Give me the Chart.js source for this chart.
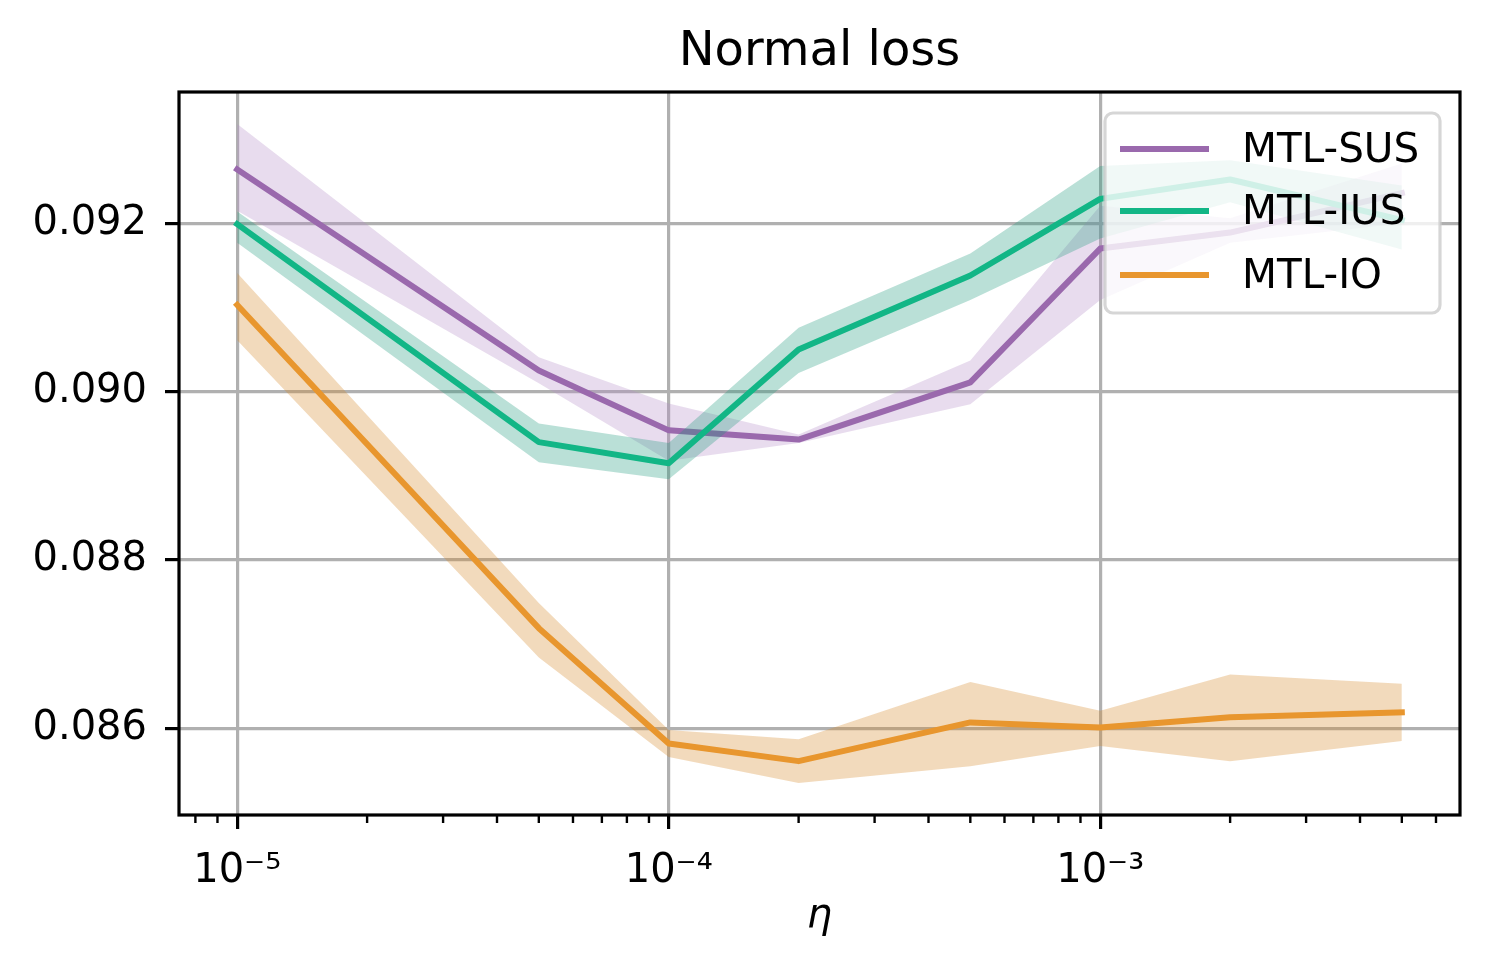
<!DOCTYPE html>
<html>
<head>
<meta charset="utf-8">
<title>Normal loss</title>
<script src="https://cdn.jsdelivr.net/npm/chart.js@4.4.1/dist/chart.umd.min.js"></script>
<style>
  html, body { margin: 0; padding: 0; background: #fff; }
  #wrap { width: 1490px; height: 975px; }
</style>
</head>
<body>
<div id="wrap"><canvas id="chart" width="1490" height="975"></canvas></div>
<script>
// learning rates on the x axis
const ETA = [1e-5, 5e-5, 1e-4, 2e-4, 5e-4, 1e-3, 2e-3, 5e-3];

const SUS_MEAN  = [0.09264, 0.09025, 0.08954, 0.08943, 0.09011, 0.09170, 0.09189, 0.09236];
const SUS_UPPER = [0.09318, 0.09041, 0.08986, 0.08949, 0.09037, 0.09221, 0.09206, 0.09271];
const SUS_LOWER = [0.09215, 0.09010, 0.08918, 0.08939, 0.08985, 0.09109, 0.09177, 0.09200];

const IUS_MEAN  = [0.09199, 0.08940, 0.08915, 0.09050, 0.09138, 0.09229, 0.09252, 0.09204];
const IUS_UPPER = [0.09214, 0.08962, 0.08939, 0.09076, 0.09164, 0.09268, 0.09275, 0.09245];
const IUS_LOWER = [0.09177, 0.08916, 0.08896, 0.09022, 0.09109, 0.09182, 0.09225, 0.09169];

const IO_MEAN   = [0.09103, 0.08719, 0.08582, 0.08561, 0.08607, 0.08601, 0.08613, 0.08619];
const IO_UPPER  = [0.09141, 0.08749, 0.08598, 0.08587, 0.08655, 0.08621, 0.08664, 0.08653];
const IO_LOWER  = [0.09061, 0.08684, 0.08566, 0.08535, 0.08555, 0.08579, 0.08561, 0.08585];

const SERIES_LABELS = ['MTL-SUS', 'MTL-IUS', 'MTL-IO'];

const X_TICKS = [1e-5, 1e-4, 1e-3];
const X_TICK_LABELS = ['10\u207B\u2075', '10\u207B\u2074', '10\u207B\u00B3'];
const X_MINOR = [8e-6, 9e-6, 2e-5, 3e-5, 4e-5, 5e-5, 6e-5, 7e-5, 8e-5, 9e-5,
                 2e-4, 3e-4, 4e-4, 5e-4, 6e-4, 7e-4, 8e-4, 9e-4,
                 2e-3, 3e-3, 4e-3, 5e-3, 6e-3];
const Y_TICKS = [0.086, 0.088, 0.090, 0.092];

const X_MIN = 7.33e-6, X_MAX = 6.82e-3;
const Y_MIN = 0.08497, Y_MAX = 0.09356;

const COLORS = {
    sus: '#9a69ad', susBand: 'rgba(178,138,198,0.3)',
    ius: '#12b686', iusBand: 'rgba(28,152,122,0.3)',
    io:  '#e8962e', ioBand:  'rgba(212,132,32,0.3)',
    grid: '#b0b0b0'
};

Chart.defaults.font.family = "'DejaVu Sans', sans-serif";
Chart.defaults.color = '#000';

function pts(arr) { return ETA.map((x, i) => ({ x: x, y: arr[i] })); }

function bandSets(upper, lower, color, order) {
    return [
        { label: '_up', data: pts(upper), borderWidth: 0, pointRadius: 0, fill: false, order: order },
        { label: '_lo', data: pts(lower), borderWidth: 0, pointRadius: 0, fill: '-1', backgroundColor: color, order: order }
    ];
}

function lineSet(label, mean, color, order) {
    return { label: label, data: pts(mean), borderColor: color, borderWidth: 6, pointRadius: 0,
             borderCapStyle: 'square', borderJoinStyle: 'round', fill: false, tension: 0, order: order };
}

const frameAndTicks = {
    id: 'frameAndTicks',
    afterDatasetsDraw(chart) {
        const { ctx, chartArea: a } = chart;
        const xs = chart.scales.x;
        ctx.save();
        ctx.strokeStyle = '#000';
        ctx.lineWidth = 2.4;
        X_MINOR.forEach(v => {
            const px = xs.getPixelForValue(v);
            ctx.beginPath();
            ctx.moveTo(px, a.bottom);
            ctx.lineTo(px, a.bottom + 8);
            ctx.stroke();
        });
        ctx.lineWidth = 3.2;
        ctx.strokeRect(a.left, a.top, a.right - a.left, a.bottom - a.top);
        ctx.restore();
    }
};

const boxLegend = {
    id: 'boxLegend',
    afterDraw(chart) {
        const { ctx, chartArea: a } = chart;
        const w = 335, h = 200, r = 8;
        const x0 = a.right - 20 - w, y0 = a.top + 21;
        ctx.save();
        ctx.beginPath();
        ctx.roundRect(x0, y0, w, h, r);
        ctx.fillStyle = 'rgba(255,255,255,0.8)';
        ctx.fill();
        ctx.lineWidth = 3.2;
        ctx.strokeStyle = 'rgba(204,204,204,0.8)';
        ctx.stroke();
        const lines = chart.data.datasets.filter(d => SERIES_LABELS.includes(d.label));
        const rows = [36, 98, 162];
        ctx.font = "40.5px 'DejaVu Sans'";
        ctx.textBaseline = 'middle';
        ctx.textAlign = 'left';
        lines.forEach((d, i) => {
            const y = y0 + rows[i];
            ctx.beginPath();
            ctx.lineCap = 'square';
            ctx.lineWidth = 6;
            ctx.strokeStyle = d.borderColor;
            ctx.moveTo(x0 + 18, y);
            ctx.lineTo(x0 + 101, y);
            ctx.stroke();
            ctx.fillStyle = '#000';
            ctx.fillText(d.label, x0 + 137, y + 2);
        });
        ctx.restore();
    }
};

const gridOpts = { color: COLORS.grid, lineWidth: 3.2, tickColor: '#000', tickWidth: 3.2, tickLength: 14 };

new Chart(document.getElementById('chart'), {
    type: 'line',
    data: {
        datasets: [
            ...bandSets(SUS_UPPER, SUS_LOWER, COLORS.susBand, 6),
            lineSet(SERIES_LABELS[0], SUS_MEAN, COLORS.sus, 5),
            ...bandSets(IUS_UPPER, IUS_LOWER, COLORS.iusBand, 4),
            lineSet(SERIES_LABELS[1], IUS_MEAN, COLORS.ius, 3),
            ...bandSets(IO_UPPER, IO_LOWER, COLORS.ioBand, 2),
            lineSet(SERIES_LABELS[2], IO_MEAN, COLORS.io, 1)
        ]
    },
    options: {
        responsive: false, animation: false,
        layout: { padding: { left: 0, right: 30, top: 0, bottom: 0 } },
        plugins: {
            legend: { display: false },
            tooltip: { enabled: false },
            title: { display: true, fullSize: false, text: 'Normal loss', color: '#000',
                     font: { size: 48, weight: 'normal' }, padding: { top: 24, bottom: 10.4 } }
        },
        scales: {
            x: {
                type: 'logarithmic', min: X_MIN, max: X_MAX,
                afterBuildTicks: s => { s.ticks = X_TICKS.map(v => ({ value: v })); },
                afterFit: s => { s.height = 160; },
                ticks: { autoSkip: false, maxRotation: 0, minRotation: 0, padding: 19, font: { size: 40 },
                         callback: (v, i) => X_TICK_LABELS[i] },
                grid: gridOpts,
                border: { display: false },
                title: { display: true, text: '\u03B7', font: { size: 40, style: 'italic' }, padding: { top: 0, bottom: 34 } }
            },
            y: {
                min: Y_MIN, max: Y_MAX,
                afterBuildTicks: s => { s.ticks = Y_TICKS.map(v => ({ value: v })); },
                afterFit: s => { s.width = 179; },
                ticks: { padding: 18, font: { size: 40 }, callback: v => v.toFixed(3) },
                grid: gridOpts,
                border: { display: false }
            }
        }
    },
    plugins: [frameAndTicks, boxLegend]
});
</script>
</body>
</html>
